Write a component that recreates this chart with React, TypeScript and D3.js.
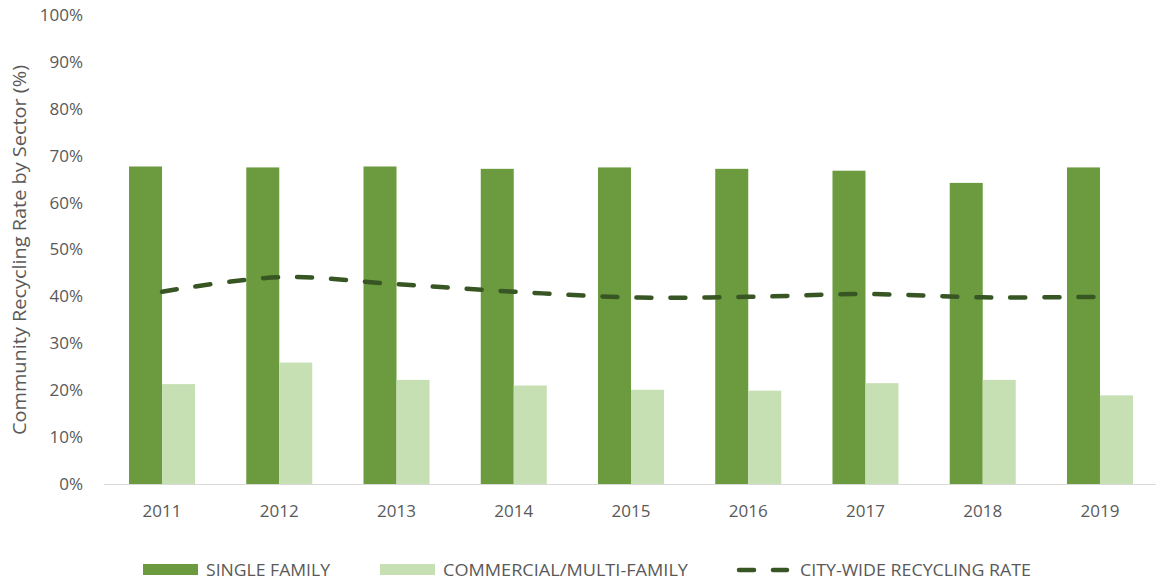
import React from "react";
import * as d3 from "d3";

const years = ["2011", "2012", "2013", "2014", "2015", "2016", "2017", "2018", "2019"];
const singleFamily = [67.7, 67.5, 67.7, 67.2, 67.5, 67.2, 66.8, 64.2, 67.5];
const commercial = [21.3, 25.9, 22.2, 21.0, 20.1, 19.9, 21.5, 22.2, 18.9];
const cityWide = [41.0, 44.1, 42.6, 41.0, 39.8, 39.9, 40.5, 39.8, 39.9];
const yTicks = [0, 10, 20, 30, 40, 50, 60, 70, 80, 90, 100];

const W = 1156;
const H = 586;
const SF_COLOR = "#6C9B3F";
const COM_COLOR = "#C6E0B4";
const LINE_COLOR = "#375623";
const TEXT = "#595959";
const FONT = "'Open Sans', 'Liberation Sans', sans-serif";

export default function App() {
  const y = d3.scaleLinear().domain([0, 100]).range([484, 15]);
  const x = d3
    .scaleBand<string>()
    .domain(years)
    .range([103.4, 1158.6])
    .paddingInner(0.437)
    .paddingOuter(0.2185);
  const sub = d3.scaleBand<string>().domain(["sf", "com"]).range([0, x.bandwidth()]);
  const cx = (yr: string) => (x(yr) as number) + x.bandwidth() / 2;
  const line = d3
    .line<number>()
    .x((_, i) => cx(years[i]))
    .y((d) => y(d))
    .curve(d3.curveCatmullRom.alpha(0.5));

  return (
    <svg
      width={W}
      height={H}
      style={{ position: "absolute", left: 0, top: 0, background: "#fff" }}
      fontFamily={FONT}
    >
      {/* y tick labels */}
      {yTicks.map((t) => (
        <text key={t} x={83} y={y(t)} dy="0.35em" textAnchor="end" fontSize={17} fill={TEXT}>
          {t}%
        </text>
      ))}
      {/* axis title */}
      <text
        transform={`translate(20,250) rotate(-90)`}
        textAnchor="middle"
        dy="0.35em"
        fontSize={18}
        fill={TEXT}
        textLength={370}
        lengthAdjust="spacingAndGlyphs"
      >
        Community Recycling Rate by Sector (%)
      </text>
      {/* bars */}
      {years.map((yr, i) => (
        <g key={yr} transform={`translate(${x(yr)},0)`}>
          <rect
            x={sub("sf")}
            y={y(singleFamily[i])}
            width={sub.bandwidth()}
            height={y(0) - y(singleFamily[i])}
            fill={SF_COLOR}
          />
          <rect
            x={sub("com")}
            y={y(commercial[i])}
            width={sub.bandwidth()}
            height={y(0) - y(commercial[i])}
            fill={COM_COLOR}
          />
        </g>
      ))}
      {/* baseline */}
      <line x1={104} x2={1156} y1={y(0) + 0.5} y2={y(0) + 0.5} stroke="#D9D9D9" strokeWidth={1} />
      {/* city-wide line */}
      <path
        d={line(cityWide) || ""}
        fill="none"
        stroke={LINE_COLOR}
        strokeWidth={4.5}
        strokeDasharray="15 19"
        strokeLinecap="round"
      />
      {/* x labels */}
      {years.map((yr) => (
        <text key={yr} x={cx(yr)} y={511} dy="0.35em" textAnchor="middle" fontSize={17} fill={TEXT}>
          {yr}
        </text>
      ))}
      {/* legend */}
      <g fontSize={16} fill={TEXT}>
        <rect x={143} y={564} width={55} height={11} fill={SF_COLOR} />
        <text x={206} y={570} dy="0.35em" textLength={124} lengthAdjust="spacingAndGlyphs">
          SINGLE FAMILY
        </text>
        <rect x={380} y={564} width={55} height={11} fill={COM_COLOR} />
        <text x={443} y={570} dy="0.35em" textLength={245} lengthAdjust="spacingAndGlyphs">
          COMMERCIAL/MULTI-FAMILY
        </text>
        <line
          x1={739}
          x2={787}
          y1={570}
          y2={570}
          stroke={LINE_COLOR}
          strokeWidth={4.5}
          strokeDasharray="15 19"
          strokeLinecap="round"
        />
        <text x={800} y={570} dy="0.35em" textLength={231} lengthAdjust="spacingAndGlyphs">
          CITY-WIDE RECYCLING RATE
        </text>
      </g>
    </svg>
  );
}
